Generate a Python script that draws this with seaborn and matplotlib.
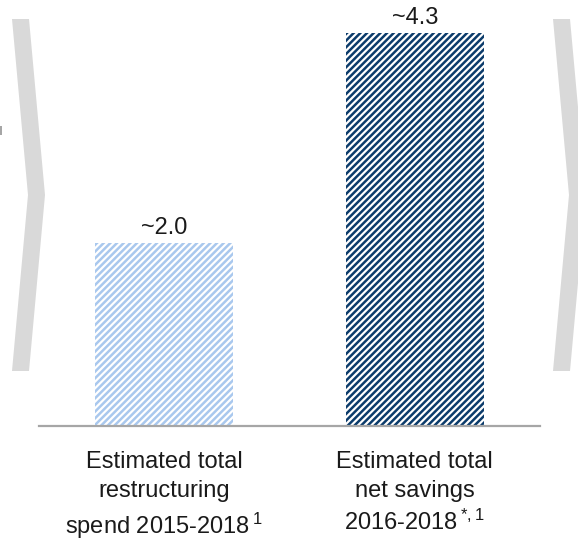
import matplotlib
matplotlib.use("Agg")
import matplotlib.pyplot as plt
import seaborn as sns
import pandas as pd
from matplotlib.patches import Polygon, Rectangle

categories = [
    "Estimated total\nrestructuring\nspend 2015-2018$\\,^{1}$",
    "Estimated total\nnet savings\n2016-2018$\\,^{*,1}$",
]
values = [2.0, 4.3]
value_labels = ["~2.0", "~4.3"]
hatch_colors = ["#a9c8ee", "#0b3b6b"]

sns.set_style("white")
plt.rcParams["font.family"] = ["Liberation Sans", "DejaVu Sans"]
plt.rcParams["mathtext.fontset"] = "custom"
plt.rcParams["mathtext.rm"] = "Liberation Sans"
plt.rcParams["mathtext.it"] = "Liberation Sans"
plt.rcParams["mathtext.default"] = "regular"
plt.rcParams["hatch.linewidth"] = 1.8

W, H = 578, 541
fig = plt.figure(figsize=(W / 100, H / 100), dpi=100)
ax = fig.add_axes([39 / W, (H - 426) / H, 501 / W, 426 / H])

df = pd.DataFrame({"cat": categories, "val": values})
sns.barplot(data=df, x="cat", y="val", hue="cat", palette=hatch_colors,
            width=0.552, legend=False, ax=ax, saturation=1)

for patch, col in zip(ax.patches, hatch_colors):
    patch.set_facecolor("white")
    patch.set_edgecolor(col)
    patch.set_hatch("/////")
    patch.set_linewidth(0)

for i, (v, lab) in enumerate(zip(values, value_labels)):
    ax.text(i, v + 0.1, lab, ha="center", va="baseline", fontsize=17, color="#1a1a1a")

ax.set_xlim(-0.5, 1.5)
ax.set_ylim(0, 426 / 91.4)
ax.set_xlabel("")
ax.set_ylabel("")
ax.set_yticks([])
ax.tick_params(axis="x", length=0, pad=18, labelsize=17, labelcolor="#1a1a1a")
for lab in ax.get_xticklabels():
    lab.set_linespacing(1.4)
for s in ["left", "right", "top"]:
    ax.spines[s].set_visible(False)
ax.spines["bottom"].set_color("#a6a6a6")
ax.spines["bottom"].set_linewidth(1.6)

# decorative chevrons (figure pixel coords)
def px(pts):
    return [(x / W, 1 - y / H) for x, y in pts]

gray = "#d9d9d9"
left = px([(12, 19), (29, 19), (45, 195), (29, 371), (12, 371), (28, 195)])
right = px([(553, 19), (570, 19), (586, 195), (570, 371), (553, 371), (569, 195)])
for poly in (left, right):
    fig.add_artist(Polygon(poly, closed=True, facecolor=gray, edgecolor="none",
                           transform=fig.transFigure))
fig.add_artist(Rectangle((0, 1 - 135 / H), 2 / W, 9 / H, facecolor="#a6a6a6",
                         edgecolor="none", transform=fig.transFigure))

fig.savefig("out.png", dpi=100, facecolor="white")
